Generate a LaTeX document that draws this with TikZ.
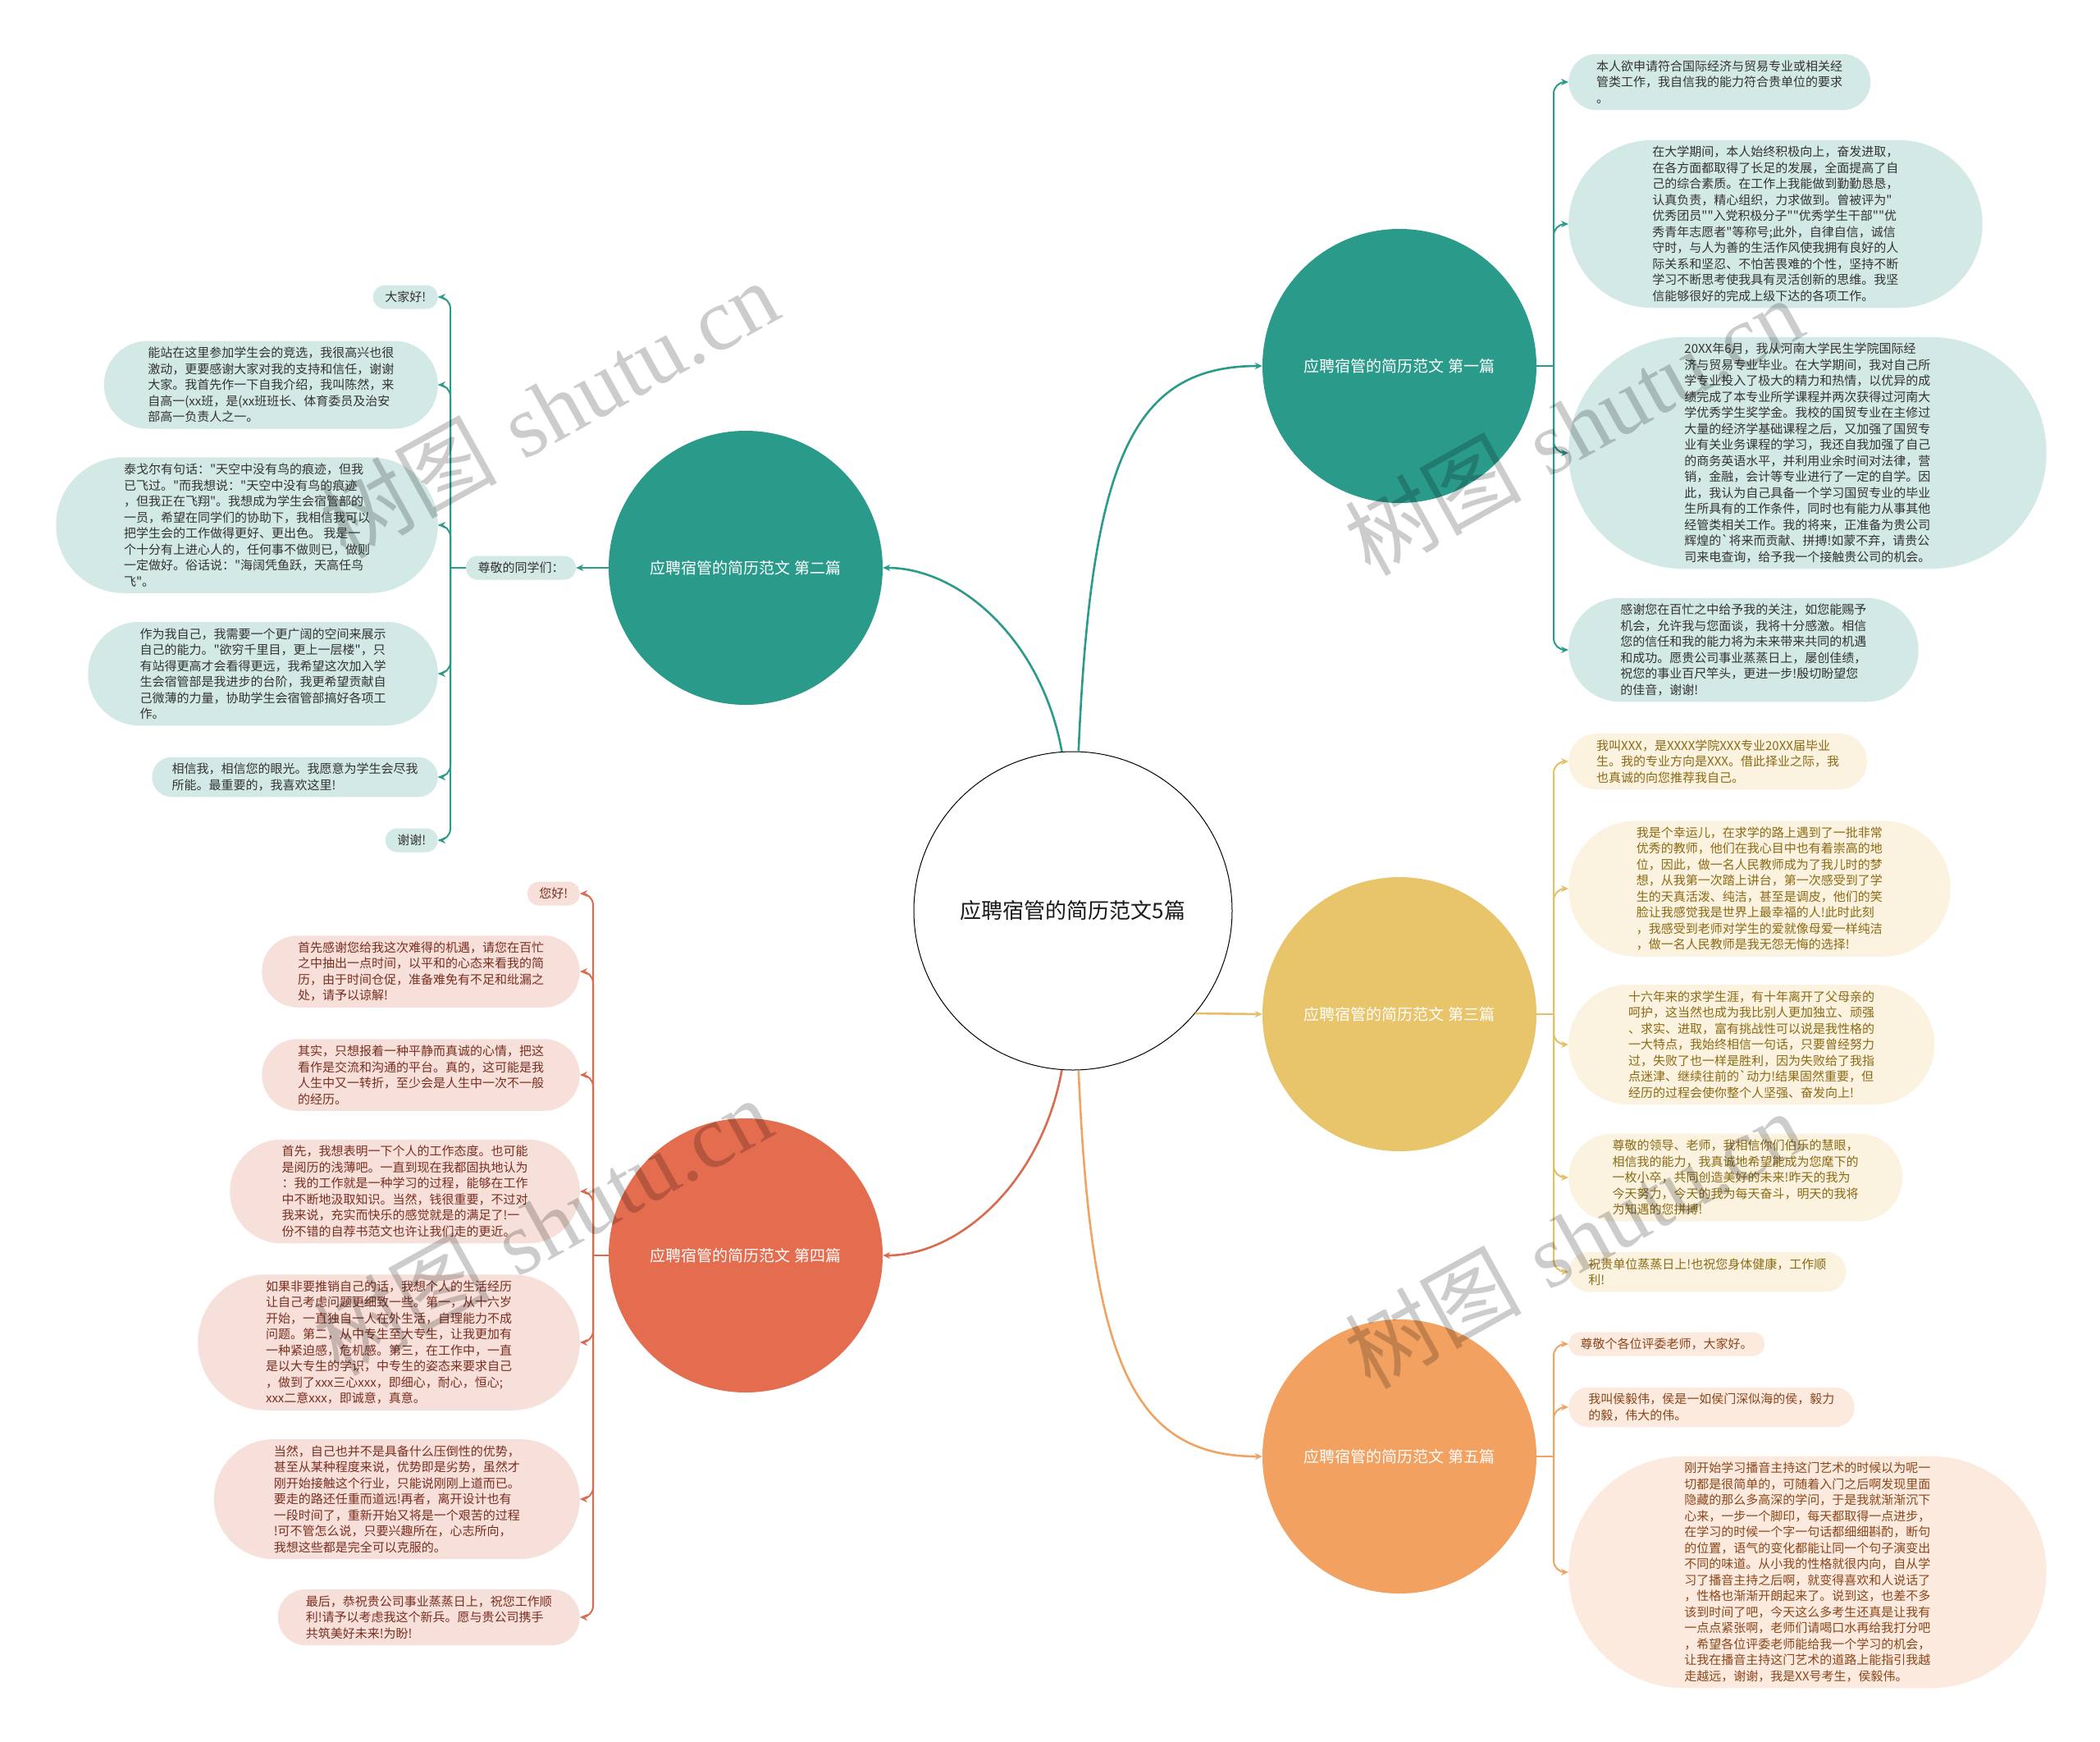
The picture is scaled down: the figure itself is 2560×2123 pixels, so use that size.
\documentclass[tikz,border=0pt]{standalone}
\usepackage{fontspec}
\newfontfamily\cjk{Noto Sans CJK SC}
\newfontfamily\wmlat{Liberation Serif}
\usetikzlibrary{arrows.meta}
\definecolor{teal1}{HTML}{2A9A8A}
\definecolor{tealL}{HTML}{D3E9E6}
\definecolor{yel1}{HTML}{E8C46A}
\definecolor{yelC}{HTML}{E3C068}
\definecolor{yelL}{HTML}{FBF3E0}
\definecolor{yelT}{HTML}{8C6A14}
\definecolor{red1}{HTML}{E46C4F}
\definecolor{redC}{HTML}{D96B50}
\definecolor{redL}{HTML}{F8E0DA}
\definecolor{redT}{HTML}{7A2E20}
\definecolor{ora1}{HTML}{F2A160}
\definecolor{oraC}{HTML}{EFA464}
\definecolor{oraL}{HTML}{FDEADF}
\definecolor{oraT}{HTML}{8A461A}
\definecolor{txt}{HTML}{333333}
\begin{document}
\begin{tikzpicture}[x=1pt,y=-1pt,
  leaf/.style={rectangle, inner ysep=0pt, align=left,
    font=\cjk\fontsize{15}{19.5}\selectfont},
  nl/.style={minimum height={(19.5*#1+9.5)*1pt}, inner xsep={(9.75*#1+4.75)*1pt},
    rounded corners={(9.75*#1+4.5)*1pt}},
  tleaf/.style={leaf, fill=tealL, text=txt},
  yleaf/.style={leaf, fill=yelL, text=yelT},
  rleaf/.style={leaf, fill=redL, text=redT},
  oleaf/.style={leaf, fill=oraL, text=oraT},
  branch/.style={circle, minimum size=334pt, inner sep=0pt, text=white,
    font=\cjk\fontsize{19}{23}\selectfont},
  hub/.style={circle, minimum size=388pt, inner sep=0pt, draw=black, line width=1pt,
    fill=white, text=black!90, font=\cjk\fontsize{26}{30}\selectfont},
  tip/.style={-{Stealth[length=9pt,width=8pt]}},
  mainconn/.style={tip, line width=2.6pt},
  leafconn/.style={tip, line width=2pt, rounded corners=14pt},
  wm/.style={text=black, text opacity=0.2, font=\fontsize{108}{110}\selectfont, inner sep=0pt}
]
\fill[white] (0,0) rectangle (2560,2123);
\useasboundingbox (0,0) rectangle (2560,2123);

% centre and branches
\node[hub] (c) at (1308,1110) {应聘宿管的简历范文5篇};
\node[branch, fill=teal1] (b1) at (1706,446) {应聘宿管的简历范文 第一篇};
\node[branch, fill=teal1] (b2) at (909,692) {应聘宿管的简历范文 第二篇};
\node[branch, fill=yel1] (b3) at (1706,1236) {应聘宿管的简历范文 第三篇};
\node[branch, fill=red1] (b4) at (909,1530) {应聘宿管的简历范文 第四篇};
\node[branch, fill=ora1] (b5) at (1706,1775) {应聘宿管的简历范文 第五篇};

\draw[mainconn, teal1] (c.88) .. controls (1330,560) and (1380,446) .. (b1.west);
\draw[mainconn, teal1] (c.94) .. controls (1270,780) and (1170,692) .. (b2.east);
\draw[mainconn, yelC] (c.-40.5) -- (b3.west);
\draw[mainconn, redC] (c.266) .. controls (1270,1440) and (1170,1530) .. (b4.east);
\draw[mainconn, oraC] (c.272) .. controls (1330,1660) and (1380,1775) .. (b5.west);

% branch 1 leaves
\node[tleaf, nl=3, anchor=west] (l1a) at (1912,100) {本人欲申请符合国际经济与贸易专业或相关经\\管类工作，我自信我的能力符合贵单位的要求\\。};
\node[tleaf, nl=10, anchor=west] (l1b) at (1912,273) {在大学期间，本人始终积极向上，奋发进取，\\在各方面都取得了长足的发展，全面提高了自\\己的综合素质。在工作上我能做到勤勤恳恳，\\认真负责，精心组织，力求做到。曾被评为"\\优秀团员""入党积极分子""优秀学生干部""优\\秀青年志愿者"等称号;此外，自律自信，诚信\\守时，与人为善的生活作风使我拥有良好的人\\际关系和坚忍、不怕苦畏难的个性，坚持不断\\学习不断思考使我具有灵活创新的思维。我坚\\信能够很好的完成上级下达的各项工作。};
\node[tleaf, nl=14, anchor=west] (l1c) at (1912,552) {20XX年6月，我从河南大学民生学院国际经\\济与贸易专业毕业。在大学期间，我对自己所\\学专业投入了极大的精力和热情，以优异的成\\绩完成了本专业所学课程并两次获得过河南大\\学优秀学生奖学金。我校的国贸专业在主修过\\大量的经济学基础课程之后，又加强了国贸专\\业有关业务课程的学习，我还自我加强了自己\\的商务英语水平，并利用业余时间对法律，营\\销，金融，会计等专业进行了一定的自学。因\\此，我认为自己具备一个学习国贸专业的毕业\\生所具有的工作条件，同时也有能力从事其他\\经管类相关工作。我的将来，正准备为贵公司\\辉煌的`将来而贡献、拼搏!如蒙不弃，请贵公\\司来电查询，给予我一个接触贵公司的机会。};
\node[tleaf, nl=6, anchor=west] (l1d) at (1912,792) {感谢您在百忙之中给予我的关注，如您能赐予\\机会，允许我与您面谈，我将十分感激。相信\\您的信任和我的能力将为未来带来共同的机遇\\和成功。愿贵公司事业蒸蒸日上，屡创佳绩，\\祝您的事业百尺竿头，更进一步!殷切盼望您\\的佳音，谢谢!};
\coordinate (J1) at (1894,446);
\draw[line width=2pt, teal1] (b1.east) -- (J1);
\foreach \l in {l1a,l1b,l1c,l1d} \draw[leafconn, teal1] (J1) |- (\l.west);

% branch 2
\node[tleaf, nl=1] (n2) at (635,692) {尊敬的同学们：};
\draw[mainconn, line width=2pt, teal1] (b2.west) -- (n2.east);
\node[tleaf, nl=1, anchor=east] (l2a) at (534,362) {大家好!};
\node[tleaf, nl=5, anchor=east] (l2b) at (534,469) {能站在这里参加学生会的竞选，我很高兴也很\\激动，更要感谢大家对我的支持和信任，谢谢\\大家。我首先作一下自我介绍，我叫陈然，来\\自高一(xx班，是(xx班班长、体育委员及治安\\部高一负责人之一。};
\node[tleaf, nl=8, anchor=east] (l2c) at (534,640) {泰戈尔有句话："天空中没有鸟的痕迹，但我\\已飞过。"而我想说："天空中没有鸟的痕迹\\，但我正在飞翔"。我想成为学生会宿管部的\\一员，希望在同学们的协助下，我相信我可以\\把学生会的工作做得更好、更出色。 我是一\\个十分有上进心人的，任何事不做则已，做则\\一定做好。俗话说："海阔凭鱼跃，天高任鸟\\飞"。};
\node[tleaf, nl=6, anchor=east] (l2d) at (534,821) {作为我自己，我需要一个更广阔的空间来展示\\自己的能力。"欲穷千里目，更上一层楼"，只\\有站得更高才会看得更远，我希望这次加入学\\生会宿管部是我进步的台阶，我更希望贡献自\\己微薄的力量，协助学生会宿管部搞好各项工\\作。};
\node[tleaf, nl=2, anchor=east] (l2e) at (534,947) {相信我，相信您的眼光。我愿意为学生会尽我\\所能。最重要的，我喜欢这里!};
\node[tleaf, nl=1, anchor=east] (l2f) at (534,1024) {谢谢!};
\coordinate (J2) at (549,692);
\draw[line width=2pt, teal1] (n2.west) -- (J2);
\foreach \l in {l2a,l2b,l2c,l2d,l2e,l2f} \draw[leafconn, teal1] (J2) |- (\l.east);

% branch 3
\node[yleaf, nl=3, anchor=west] (l3a) at (1912,928) {我叫XXX，是XXXX学院XXX专业20XX届毕业\\生。我的专业方向是XXX。借此择业之际，我\\也真诚的向您推荐我自己。};
\node[yleaf, nl=8, anchor=west] (l3b) at (1912,1083) {我是个幸运儿，在求学的路上遇到了一批非常\\优秀的教师，他们在我心目中也有着崇高的地\\位，因此，做一名人民教师成为了我儿时的梦\\想，从我第一次踏上讲台，第一次感受到了学\\生的天真活泼、纯洁，甚至是调皮，他们的笑\\脸让我感觉我是世界上最幸福的人!此时此刻\\，我感受到老师对学生的爱就像母爱一样纯洁\\，做一名人民教师是我无怨无悔的选择!};
\node[yleaf, nl=7, anchor=west] (l3c) at (1912,1273) {十六年来的求学生涯，有十年离开了父母亲的\\呵护，这当然也成为我比别人更加独立、顽强\\、求实、进取，富有挑战性可以说是我性格的\\一大特点，我始终相信一句话，只要曾经努力\\过，失败了也一样是胜利，因为失败给了我指\\点迷津、继续往前的`动力!结果固然重要，但\\经历的过程会使你整个人坚强、奋发向上!};
\node[yleaf, nl=5, anchor=west] (l3d) at (1912,1435) {尊敬的领导、老师，我相信你们伯乐的慧眼，\\相信我的能力，我真诚地希望能成为您麾下的\\一枚小卒，共同创造美好的未来!昨天的我为\\今天努力，今天的我为每天奋斗，明天的我将\\为知遇的您拼搏!};
\node[yleaf, nl=2, anchor=west] (l3e) at (1912,1550) {祝贵单位蒸蒸日上!也祝您身体健康，工作顺\\利!};
\coordinate (J3) at (1894,1236);
\draw[line width=2pt, yelC] (b3.east) -- (J3);
\foreach \l in {l3a,l3b,l3c,l3d,l3e} \draw[leafconn, yelC] (J3) |- (\l.west);

% branch 4
\node[rleaf, nl=1, anchor=east] (l4a) at (707,1089) {您好!};
\node[rleaf, nl=4, anchor=east] (l4b) at (707,1184) {首先感谢您给我这次难得的机遇，请您在百忙\\之中抽出一点时间，以平和的心态来看我的简\\历，由于时间仓促，准备难免有不足和纰漏之\\处，请予以谅解!};
\node[rleaf, nl=4, anchor=east] (l4c) at (707,1310) {其实，只想报着一种平静而真诚的心情，把这\\看作是交流和沟通的平台。真的，这可能是我\\人生中又一转折，至少会是人生中一次不一般\\的经历。};
\node[rleaf, nl=6, anchor=east] (l4d) at (707,1452) {首先，我想表明一下个人的工作态度。也可能\\是阅历的浅薄吧。一直到现在我都固执地认为\\：我的工作就是一种学习的过程，能够在工作\\中不断地汲取知识。当然，钱很重要，不过对\\我来说，充实而快乐的感觉就是的满足了!一\\份不错的自荐书范文也许让我们走的更近。};
\node[rleaf, nl=8, anchor=east] (l4e) at (707,1636) {如果非要推销自己的话，我想个人的生活经历\\让自己考虑问题更细致一些。第一，从十六岁\\开始，一直独自一人在外生活，自理能力不成\\问题。第二，从中专生至大专生，让我更加有\\一种紧迫感，危机感。第三，在工作中，一直\\是以大专生的学识，中专生的姿态来要求自己\\，做到了xxx三心xxx，即细心，耐心，恒心;\\xxx二意xxx，即诚意，真意。};
\node[rleaf, nl=7, anchor=east] (l4f) at (707,1827) {当然，自己也并不是具备什么压倒性的优势，\\甚至从某种程度来说，优势即是劣势，虽然才\\刚开始接触这个行业，只能说刚刚上道而已。\\要走的路还任重而道远!再者，离开设计也有\\一段时间了，重新开始又将是一个艰苦的过程\\!可不管怎么说，只要兴趣所在，心志所向，\\我想这些都是完全可以克服的。};
\node[rleaf, nl=3, anchor=east] (l4g) at (707,1971) {最后，恭祝贵公司事业蒸蒸日上，祝您工作顺\\利!请予以考虑我这个新兵。愿与贵公司携手\\共筑美好未来!为盼!};
\coordinate (J4) at (723,1530);
\draw[line width=2pt, redC] (b4.west) -- (J4);
\foreach \l in {l4a,l4b,l4c,l4d,l4e,l4f,l4g} \draw[leafconn, redC] (J4) |- (\l.east);

% branch 5
\node[oleaf, nl=1, anchor=west] (l5a) at (1912,1638) {尊敬个各位评委老师，大家好。};
\node[oleaf, nl=2, anchor=west] (l5b) at (1912,1715) {我叫侯毅伟，侯是一如侯门深似海的侯，毅力\\的毅，伟大的伟。};
\node[oleaf, nl=14, anchor=west] (l5c) at (1912,1916) {刚开始学习播音主持这门艺术的时候以为呢一\\切都是很简单的，可随着入门之后啊发现里面\\隐藏的那么多高深的学问，于是我就渐渐沉下\\心来，一步一个脚印，每天都取得一点进步，\\在学习的时候一个字一句话都细细斟酌，断句\\的位置，语气的变化都能让同一个句子演变出\\不同的味道。从小我的性格就很内向，自从学\\习了播音主持之后啊，就变得喜欢和人说话了\\，性格也渐渐开朗起来了。说到这，也差不多\\该到时间了吧，今天这么多考生还真是让我有\\一点点紧张啊，老师们请喝口水再给我打分吧\\，希望各位评委老师能给我一个学习的机会，\\让我在播音主持这门艺术的道路上能指引我越\\走越远，谢谢，我是XX号考生，侯毅伟。};
\coordinate (J5) at (1894,1775);
\draw[line width=2pt, oraC] (b5.east) -- (J5);
\foreach \l in {l5a,l5b,l5c} \draw[leafconn, oraC] (J5) |- (\l.west);

% watermarks
\node[wm, rotate=29] (w1) at (669,498) {{\cjk 树图} {\wmlat shutu.cn}};
\node[wm, rotate=29] (w2) at (1918,519) {{\cjk 树图} {\wmlat shutu.cn}};
\node[wm, rotate=29] (w3) at (661,1494) {{\cjk 树图} {\wmlat shutu.cn}};
\node[wm, rotate=29] (w4) at (1918,1510) {{\cjk 树图} {\wmlat shutu.cn}};
\end{tikzpicture}
\end{document}
